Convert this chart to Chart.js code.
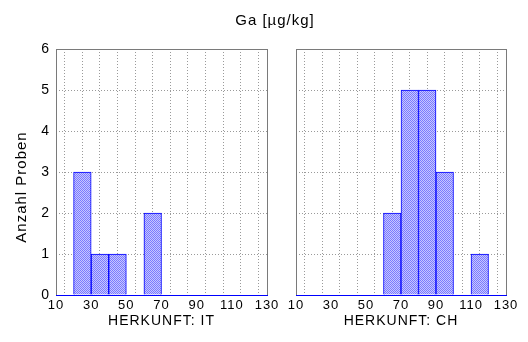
<!DOCTYPE html>
<html>
<head>
<meta charset="utf-8">
<script src="https://cdn.jsdelivr.net/npm/chart.js@4.4.1/dist/chart.umd.min.js"></script>
<style>
html, body { margin: 0; padding: 0; background: #fff; }
#wrap { position: relative; width: 528px; height: 342px; }
#wrap canvas { position: absolute; left: 0; top: 0; }
</style>
</head>
<body>
<div id="wrap">
  <canvas id="chartIT" width="528" height="342"></canvas>
  <canvas id="chartCH" width="528" height="342"></canvas>
</div>
<script>
// histogram bins (centres), counts per origin
var binMids = [15, 25, 35, 45, 55, 65, 75, 85, 95, 105, 115, 125];
var countsIT = [0, 3, 1, 1, 0, 2, 0, 0, 0, 0, 0, 0];
var countsCH = [0, 0, 0, 0, 0, 2, 5, 5, 3, 0, 1, 0];
var xTickLabels = [10, 30, 50, 70, 90, 110, 130];
var mainTitle = 'Ga [µg/kg]';
var yTitle = 'Anzahl Proben';
var panelTitles = ['HERKUNFT: IT', 'HERKUNFT: CH'];

var font = 'Arial, "Liberation Sans", sans-serif';

// stippled blue fill like the original
var pc = document.createElement('canvas');
pc.width = 2; pc.height = 2;
var pctx = pc.getContext('2d');
pctx.fillStyle = '#c6c6ff';
pctx.fillRect(0, 0, 2, 2);
pctx.fillStyle = '#7a7aff';
pctx.fillRect(0, 0, 1, 1);
pctx.fillRect(1, 1, 1, 1);
var hatch = pctx.createPattern(pc, 'repeat');

function points(counts) {
  var pts = [];
  for (var i in binMids) {
    pts.push({x: binMids[i], y: counts[i]});
  }
  return pts;
}

var spacing = {
  id: 'spacing',
  beforeDraw: function(chart) { chart.ctx.letterSpacing = '1px'; }
};

var frame = {
  id: 'frame',
  afterDatasetsDraw: function(chart) {
    var a = chart.chartArea, c = chart.ctx;
    c.save();
    c.strokeStyle = '#7a7a7a';
    c.lineWidth = 1;
    c.strokeRect(a.left + 0.5, a.top + 0.5, a.right - a.left, a.bottom - a.top);
    c.strokeStyle = '#0000ff';
    c.beginPath();
    c.moveTo(a.left, a.bottom + 0.5);
    c.lineTo(a.right + 1, a.bottom + 0.5);
    c.stroke();
    c.restore();
  }
};

var labels = {
  id: 'labels',
  afterDraw: function(chart) {
    var c = chart.ctx;
    c.save();
    c.letterSpacing = '1px';
    c.fillStyle = '#000';
    c.textAlign = 'center';
    c.textBaseline = 'middle';
    c.font = '15px ' + font;
    c.fillText(mainTitle, 275, 21);
    c.translate(22, 187);
    c.rotate(-Math.PI / 2);
    c.fillText(yTitle, 0, 0);
    c.restore();
  }
};

function makeChart(id, counts, title, yWidth, rightPad, showY, extra) {
  return new Chart(document.getElementById(id), {
    type: 'bar',
    data: {
      datasets: [{
        data: points(counts),
        backgroundColor: hatch,
        borderColor: '#0000ff',
        borderWidth: 1,
        borderSkipped: 'bottom',
        barPercentage: 1,
        categoryPercentage: 1
      }]
    },
    options: {
      responsive: false,
      animation: false,
      devicePixelRatio: 1,
      layout: {padding: {left: 0, top: 49, right: rightPad, bottom: 0}},
      plugins: {legend: {display: false}, tooltip: {enabled: false}},
      scales: {
        x: {
          type: 'linear',
          min: 10,
          max: 130,
          offset: false,
          afterFit: function(s) { s.height = 47; },
          grid: {color: '#9a9a9a', drawTicks: false},
          border: {display: false, dash: [1, 2]},
          ticks: {
            stepSize: 10,
            autoSkip: false,
            maxRotation: 0,
            padding: 3,
            color: '#000',
            font: {family: font, size: 13},
            callback: function(v) { return xTickLabels.indexOf(v) >= 0 ? v : ''; }
          },
          title: {
            display: true,
            text: title,
            color: '#000',
            font: {family: font, size: 14},
            padding: 12.1
          }
        },
        y: {
          min: 0,
          max: 6,
          afterFit: function(s) { s.width = yWidth; },
          grid: {color: '#9a9a9a', drawTicks: false},
          border: {display: false, dash: [1, 2]},
          ticks: {
            display: showY,
            stepSize: 1,
            padding: 6,
            color: '#000',
            font: {family: font, size: 14}
          }
        }
      }
    },
    plugins: [spacing, frame].concat(extra)
  });
}

var itChart = makeChart('chartIT', countsIT, panelTitles[0], 56, 261, true, [labels]);
var chChart = makeChart('chartCH', countsCH, panelTitles[1], 296, 22, false, []);
</script>
</body>
</html>
